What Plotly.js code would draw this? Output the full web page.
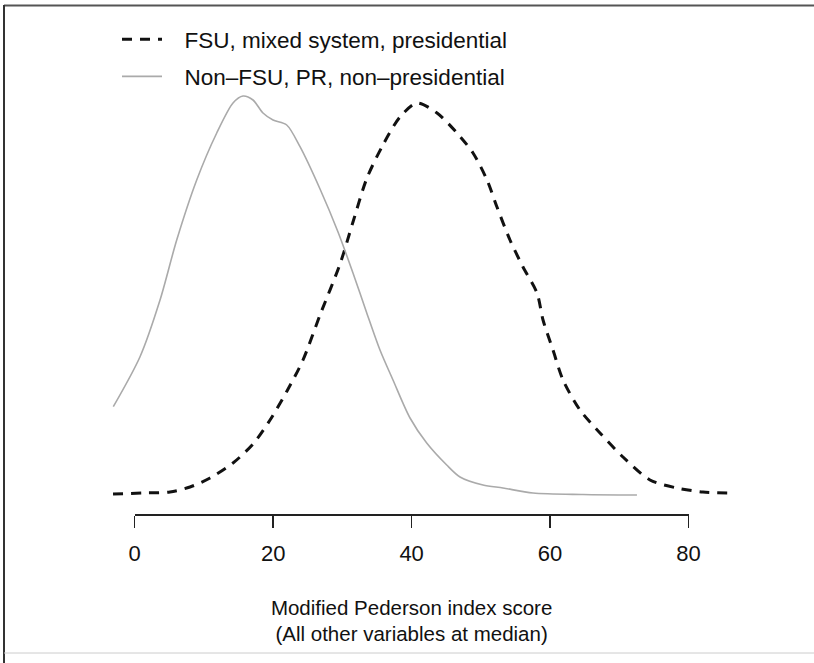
<!DOCTYPE html>
<html>
<head>
<meta charset="utf-8">
<script src="https://cdn.plot.ly/plotly-3.0.1.min.js"></script>
<style>html,body{margin:0;padding:0;background:#fff;}#chart{width:814px;height:663px;}</style>
</head>
<body>
<div id="chart"></div>
<script>
// Series names (legend labels)
const seriesNames = ["FSU, mixed system, presidential", "Non\u2013FSU, PR, non\u2013presidential"];

// FSU, mixed system, presidential (dashed) — density estimate
const fsuX = [-3.13, 1.2, 5.1, 7.99, 10.88, 14.2, 17.09, 19.55, 22.0, 24.31, 26.77, 29.66, 31.53, 33.55, 35.86, 38.32, 40.78, 43.67, 46.55, 48.87, 50.89, 52.33, 54.21, 56.09, 58.11, 58.98, 60.42, 61.87, 64.32, 67.21, 70.53, 74.43, 78.33, 82.08, 86.7];
const fsuY = [0.0001, 0.0002, 0.0003, 0.0008, 0.0017, 0.0032, 0.0051, 0.0075, 0.0104, 0.0135, 0.0180, 0.0231, 0.0273, 0.0317, 0.0350, 0.0378, 0.0392, 0.0382, 0.0362, 0.0342, 0.0315, 0.0288, 0.0255, 0.0228, 0.0202, 0.0175, 0.0145, 0.0115, 0.0085, 0.0062, 0.0038, 0.0015, 0.0007, 0.0003, 0.0002];

// Non-FSU, PR, non-presidential (gray solid)
const nonX = [-3.09, 0.77, 3.66, 6.07, 8.96, 11.85, 14.2, 15.64, 17.09, 18.53, 19.98, 21.96, 23.88, 26.77, 29.37, 31.53, 33.51, 35.43, 37.31, 39.77, 42.18, 45.07, 46.99, 50.31, 53.2, 57.53, 64.75, 72.55];
const nonY = [0.00883, 0.01383, 0.0195, 0.0255, 0.0315, 0.0362, 0.0392, 0.0399, 0.0395, 0.0382, 0.0375, 0.0370, 0.03483, 0.0306, 0.0263, 0.0222, 0.01823, 0.0145, 0.0115, 0.0077, 0.0052, 0.0030, 0.0018, 0.0010, 0.0007, 0.0002, 0.00005, 0.0];

// Axis ticks and title
const tickVals = [0, 20, 40, 60, 80];
const tickText = ["0", "20", "40", "60", "80"];
const xTitle = "Modified Pederson index score<br>(All other variables at median)";

const FONT = "'Liberation Sans', Arial, Helvetica, sans-serif";
const LEGEND_PAD = "\u2002\u00a0"; // spacing between legend sample and label

const traces = [
  {
    x: fsuX, y: fsuY, xaxis: "x2", yaxis: "y",
    type: "scatter", mode: "lines", name: LEGEND_PAD + seriesNames[0],
    legendgroup: "a",
    line: {color: "#111111", width: 3, dash: "10px,8px", shape: "spline", smoothing: 0.8},
    hoverinfo: "skip"
  },
  {
    x: nonX, y: nonY, xaxis: "x2", yaxis: "y",
    type: "scatter", mode: "lines", name: LEGEND_PAD + seriesNames[1],
    legendgroup: "b",
    line: {color: "#aaaaaa", width: 1.6, shape: "spline", smoothing: 0.8},
    hoverinfo: "skip"
  },
  {
    // placeholder so that the visible (0–80) axis gets its subplot
    x: [null], y: [null], xaxis: "x", yaxis: "y",
    type: "scatter", mode: "lines", showlegend: false, hoverinfo: "skip"
  }
];

// pixel helpers for frame lines (plot area: l=107, t=80, w=630, h=434)
const L = 107, T = 80, W = 630, H = 434;
const px = v => (v - L) / W;
const py = v => 1 - (v - T) / H;

const layout = {
  width: 814, height: 663,
  margin: {l: L, r: 814 - L - W, t: T, b: 663 - T - H, pad: 0},
  paper_bgcolor: "#ffffff", plot_bgcolor: "#ffffff",
  font: {family: FONT, size: 21, color: "#111111"},
  showlegend: true,
  legend: {
    x: px(117), y: py(18), xanchor: "left", yanchor: "top",
    bgcolor: "rgba(0,0,0,0)", borderwidth: 0,
    traceorder: "grouped", tracegroupgap: 5,
    font: {family: FONT, size: 22.5, color: "#111111"},
    itemwidth: 40
  },
  xaxis: {
    domain: [4 / 91, 84 / 91], range: [0, 80], anchor: "y",
    tickmode: "array", tickvals: tickVals, ticktext: tickText,
    ticks: "outside", ticklen: 12, tickwidth: 1.5, tickcolor: "#222222",
    ticklabelstandoff: 7,
    showline: true, linewidth: 1.5, linecolor: "#222222",
    showgrid: false, zeroline: false, fixedrange: true,
    tickfont: {family: FONT, size: 22, color: "#111111"},
    title: {text: xTitle, font: {family: FONT, size: 20.5, color: "#111111"}, standoff: 35}
  },
  xaxis2: {
    domain: [0, 1], range: [-4, 87], anchor: "y",
    visible: false, showgrid: false, zeroline: false, fixedrange: true
  },
  yaxis: {
    domain: [0, 1], range: [-0.0019, 0.0415], anchor: "x2",
    visible: false, showgrid: false, zeroline: false, fixedrange: true
  },
  shapes: [
    {type: "line", xref: "paper", yref: "paper", x0: px(4), x1: px(814), y0: py(5.5), y1: py(5.5), line: {color: "#555555", width: 2}},
    {type: "line", xref: "paper", yref: "paper", x0: px(4), x1: px(4), y0: py(5), y1: py(663), line: {color: "#333333", width: 2}},
    {type: "line", xref: "paper", yref: "paper", x0: px(4), x1: px(814), y0: py(653), y1: py(653), line: {color: "#cccccc", width: 1}}
  ]
};

Plotly.newPlot("chart", traces, layout, {displayModeBar: false, staticPlot: true});
</script>
</body>
</html>
